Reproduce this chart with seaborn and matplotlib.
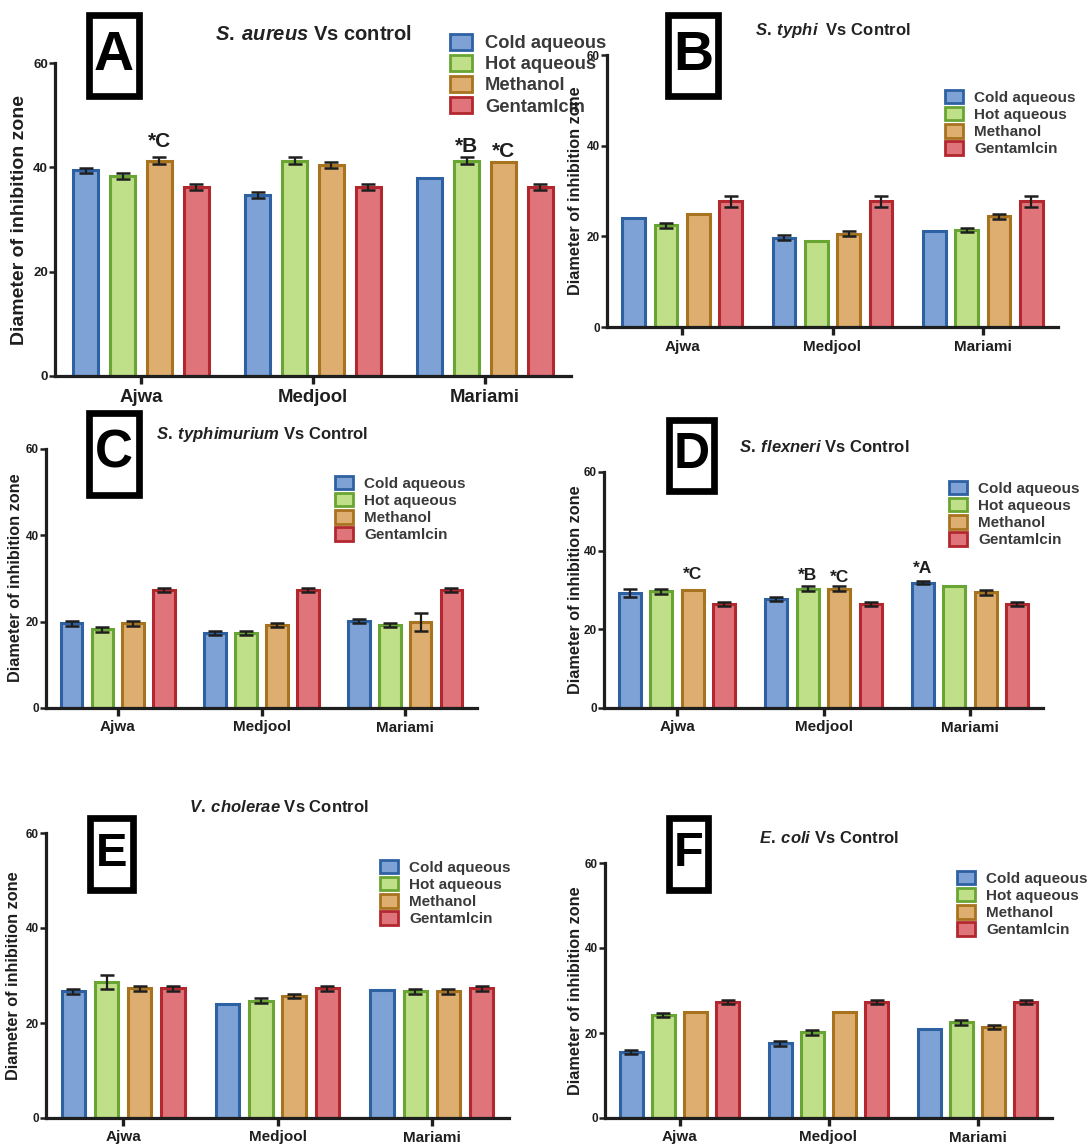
import matplotlib
matplotlib.use("Agg")
import matplotlib.pyplot as plt
from matplotlib.patches import Patch, Rectangle
import pandas as pd
import seaborn as sns

categories = ["Ajwa", "Medjool", "Mariami"]
extracts = ["Cold aqueous", "Hot aqueous", "Methanol", "Gentamlcin"]
fill_colors = ["#7ea2d5", "#bfdf88", "#deae70", "#e0747b"]
edge_colors = ["#2e61a2", "#69a532", "#a8731f", "#b3272f"]

# mean diameter of inhibition zone, one row per extract (Ajwa, Medjool, Mariami)
aureus_mean = [[39.4, 34.7, 37.9], [38.4, 41.3, 41.3], [41.3, 40.4, 41.0], [36.3, 36.3, 36.3]]
aureus_err = [[0.5, 0.6, 0.0], [0.6, 0.6, 0.6], [0.6, 0.6, 0.0], [0.6, 0.6, 0.6]]

typhi_mean = [[24.0, 19.7, 21.1], [22.4, 19.0, 21.4], [25.0, 20.6, 24.4], [27.7, 27.7, 27.7]]
typhi_err = [[0.0, 0.5, 0.0], [0.5, 0.0, 0.5], [0.0, 0.5, 0.5], [1.2, 1.2, 1.2]]

typhimurium_mean = [[19.6, 17.3, 20.2], [18.2, 17.3, 19.2], [19.6, 19.2, 19.9], [27.3, 27.3, 27.3]]
typhimurium_err = [[0.5, 0.5, 0.5], [0.5, 0.5, 0.5], [0.5, 0.5, 2.0], [0.4, 0.4, 0.4]]

flexneri_mean = [[29.2, 27.7, 31.9], [29.7, 30.3, 31.0], [30.0, 30.3, 29.4], [26.4, 26.4, 26.4]]
flexneri_err = [[1.0, 0.6, 0.5], [0.6, 0.6, 0.0], [0.0, 0.6, 0.6], [0.5, 0.5, 0.5]]

cholerae_mean = [[26.7, 24.0, 27.0], [28.7, 24.7, 26.7], [27.3, 25.7, 26.7], [27.3, 27.3, 27.3]]
cholerae_err = [[0.5, 0.0, 0.0], [1.5, 0.5, 0.5], [0.5, 0.5, 0.5], [0.5, 0.5, 0.5]]

coli_mean = [[15.6, 17.6, 20.9], [24.3, 20.2, 22.5], [24.9, 24.9, 21.5], [27.3, 27.3, 27.3]]
coli_err = [[0.5, 0.6, 0.0], [0.5, 0.6, 0.6], [0.0, 0.0, 0.5], [0.5, 0.5, 0.5]]

# significance marks: (extract index, sample index, text, y)
aureus_marks = [(2, 0, "*C", 43.9), (1, 2, "*B", 42.9), (2, 2, "*C", 42.0)]
flexneri_marks = [(2, 0, "*C", 32.8), (1, 1, "*B", 32.5), (2, 1, "*C", 32.1), (0, 2, "*A", 34.4)]

sns.set_theme(style="ticks")
plt.rcParams["font.family"] = ["Liberation Sans", "DejaVu Sans"]
plt.rcParams["font.weight"] = "bold"
plt.rcParams["axes.labelweight"] = "bold"
plt.rcParams["mathtext.fontset"] = "custom"
plt.rcParams["mathtext.it"] = "Liberation Sans:italic:bold"
plt.rcParams["mathtext.rm"] = "Liberation Sans:bold"
plt.rcParams["mathtext.bf"] = "Liberation Sans:bold"

W, H = 1091, 1146
fig = plt.figure(figsize=(W / 100, H / 100), dpi=100)

# layout in pixels: axes (left, right, top, bottom), title, letter box, legend
panels = [
    dict(mean=aureus_mean, err=aureus_err, marks=aureus_marks, mark_size=15,
         axes=(55, 571, 63, 376), title=r"$\mathit{S.\:aureus}$ Vs control", tpos=(314, 35), tsize=14.5,
         letter="A", lbox=(86, 142, 12, 99), lsize=40,
         leg=(450, 44, 13.2), ylab=(20, 220, 14), tick=9.5, xtick=13.4),
    dict(mean=typhi_mean, err=typhi_err, marks=[], mark_size=12,
         axes=(607, 1058, 55, 327), title=r"$\mathit{S.\:typhi}$  Vs Control", tpos=(833, 30), tsize=12,
         letter="B", lbox=(665, 721, 12, 99), lsize=40,
         leg=(945, 98, 11), ylab=(576, 191, 11.7), tick=8.5, xtick=11),
    dict(mean=typhimurium_mean, err=typhimurium_err, marks=[], mark_size=12,
         axes=(46, 477, 449, 708), title=r"$\mathit{S.\:typhimurium}$ Vs Control", tpos=(262, 435), tsize=12,
         letter="C", lbox=(86, 142, 410, 498), lsize=38,
         leg=(335, 484, 11), ylab=(16, 578, 11.7), tick=8.5, xtick=11),
    dict(mean=flexneri_mean, err=flexneri_err, marks=flexneri_marks, mark_size=12.5,
         axes=(604, 1043, 472, 708), title=r"$\mathit{S.\:flexneri}$ Vs Control", tpos=(824, 447), tsize=12,
         letter="D", lbox=(666, 717, 417, 494), lsize=36,
         leg=(949, 489, 11), ylab=(575, 590, 11.7), tick=8.5, xtick=11),
    dict(mean=cholerae_mean, err=cholerae_err, marks=[], mark_size=12,
         axes=(46, 509, 833, 1118), title=r"$\mathit{V.\:cholerae}$ Vs Control", tpos=(279, 807), tsize=12,
         letter="E", lbox=(87, 136, 815, 893), lsize=34,
         leg=(380, 868, 11), ylab=(14, 976, 11.7), tick=8.5, xtick=11),
    dict(mean=coli_mean, err=coli_err, marks=[], mark_size=12,
         axes=(605, 1052, 863, 1118), title=r"$\mathit{E.\:coli}$ Vs Control", tpos=(829, 838), tsize=12,
         letter="F", lbox=(666, 711, 815, 893), lsize=35,
         leg=(957, 879, 11), ylab=(575, 991, 11.7), tick=8.5, xtick=11),
]

ink = "#1e1e1e"

for p in panels:
    l, r, t, b = p["axes"]
    ax = fig.add_axes([l / W, 1 - b / H, (r - l) / W, (b - t) / H])

    df = pd.DataFrame({
        "sample": categories * len(extracts),
        "extract": [e for e in extracts for _ in categories],
        "value": [v for row in p["mean"] for v in row],
    })
    sns.barplot(data=df, x="sample", y="value", hue="extract", order=categories,
                hue_order=extracts, palette=fill_colors, saturation=1, width=0.86, gap=0.3,
                errorbar=None, linewidth=2.2, legend=False, ax=ax)

    centers = []
    for cont, ec, means, errs in zip(ax.containers, edge_colors, p["mean"], p["err"]):
        xs = []
        for bar in cont:
            bar.set_edgecolor(ec)
            xs.append(bar.get_x() + bar.get_width() / 2)
        centers.append(xs)
        keep = [i for i, e in enumerate(errs) if e > 0]
        if keep:
            ax.errorbar([xs[i] for i in keep], [means[i] for i in keep],
                        yerr=[errs[i] for i in keep], fmt="none", ecolor=ink,
                        elinewidth=1.6, capsize=5, capthick=1.8, zorder=5)

    for hi, ci, txt, y in p["marks"]:
        ax.text(centers[hi][ci], y, txt, ha="center", va="baseline",
                fontsize=p["mark_size"], fontweight="bold", color=ink)

    ax.set_xlim(-0.5, 2.5)
    ax.set_ylim(0, 60)
    ax.set_yticks([0, 20, 40, 60])
    ax.set_xlabel("")
    ax.set_ylabel("Diameter of inhibition zone", fontsize=p["ylab"][2], color=ink)
    ax.yaxis.set_label_coords(p["ylab"][0] / W, 1 - p["ylab"][1] / H, transform=fig.transFigure)
    ax.yaxis.label.set_va("center")
    sns.despine(ax=ax)
    for side in ["left", "bottom"]:
        ax.spines[side].set_linewidth(2.3)
        ax.spines[side].set_color(ink)
    ax.tick_params(axis="y", length=4, width=1.8, color=ink, labelsize=p["tick"], labelcolor=ink, pad=1)
    ax.tick_params(axis="x", length=6, width=2.4, color=ink, labelsize=p["xtick"], labelcolor=ink, pad=3)

    handles = [Patch(facecolor=fc, edgecolor=ec, linewidth=2) for fc, ec in zip(fill_colors, edge_colors)]
    lx, ly, fs = p["leg"]
    fpx = fs * 100 / 72
    ax.legend(handles, extracts, loc="upper left",
              bbox_to_anchor=(lx / W, 1 - (ly - 0.55 * fpx) / H), bbox_transform=fig.transFigure,
              frameon=False, fontsize=fs, labelcolor="#3a3a3a", handlelength=1.2,
              handleheight=1.0, handletextpad=0.7, labelspacing=0.14, borderpad=0,
              borderaxespad=0)

    fig.text(p["tpos"][0] / W, 1 - p["tpos"][1] / H, p["title"], ha="center", va="center",
             fontsize=p["tsize"], fontweight="bold", color="#222222")

    x0, x1, y0, y1 = p["lbox"]
    lw_px = 6.7
    fig.add_artist(Rectangle(((x0 + lw_px / 2) / W, 1 - (y1 - lw_px / 2) / H),
                             (x1 - x0 - lw_px) / W, (y1 - y0 - lw_px) / H,
                             transform=fig.transFigure, fill=False, edgecolor="black",
                             linewidth=lw_px * 72 / 100))
    fig.text((x0 + x1) / 2 / W, 1 - (y0 + y1) / 2 / H, p["letter"], ha="center", va="center",
             fontsize=p["lsize"], fontweight="bold", color="black")

fig.savefig("out.png", dpi=100)
